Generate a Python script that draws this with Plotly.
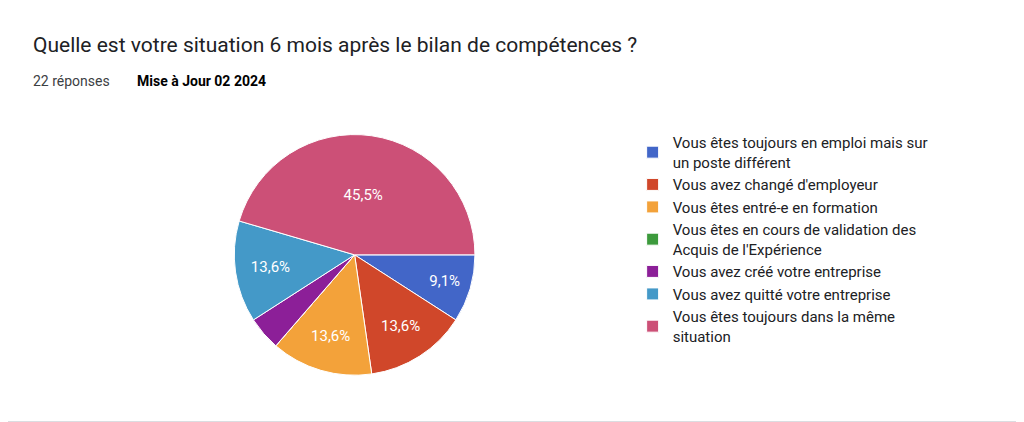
import plotly.graph_objects as go

labels = [
    "Vous êtes toujours en emploi mais sur<br>un poste différent",
    "Vous avez changé d'employeur",
    "Vous êtes entré-e en formation",
    "Vous êtes en cours de validation des<br>Acquis de l'Expérience",
    "Vous avez créé votre entreprise",
    "Vous avez quitté votre entreprise",
    "Vous êtes toujours dans la même<br>situation",
]
counts = [2, 3, 3, 0, 1, 3, 10]
slice_text = ["9,1%", "13,6%", "13,6%", "", "", "13,6%", "45,5%"]
colors = ["#4266c8", "#d0472a", "#f3a23a", "#3c9a3c", "#8c1f98", "#4499c8", "#cc5077"]

fig = go.Figure(go.Pie(
    labels=labels,
    values=counts,
    text=slice_text,
    texttemplate="%{text}",
    textposition="inside",
    insidetextorientation="horizontal",
    textfont=dict(color="white", size=15, family="Roboto, Arial, sans-serif"),
    marker=dict(colors=colors, line=dict(color="white", width=1)),
    sort=False,
    direction="clockwise",
    rotation=90,
    domain=dict(x=[0.221, 0.456], y=[0.128, 0.702]),
    hoverinfo="label+value+percent",
))

fig.update_layout(
    width=1024,
    height=422,
    margin=dict(l=0, r=0, t=0, b=0),
    paper_bgcolor="white",
    font=dict(family="Roboto, Arial, sans-serif", color="#202124"),
    legend=dict(
        x=0.61, y=0.72, xanchor="left", yanchor="top",
        font=dict(size=15, color="#202124"),
        tracegroupgap=0, itemwidth=30,
    ),
    annotations=[
        dict(text="Quelle est votre situation 6 mois après le bilan de compétences ?",
             x=23 / 1024, y=1 - 37 / 422, xref="paper", yref="paper",
             xanchor="left", yanchor="middle", showarrow=False,
             font=dict(size=21, color="#202124")),
        dict(text="22 réponses", x=23 / 1024, y=1 - 73 / 422, xref="paper", yref="paper",
             xanchor="left", yanchor="middle", showarrow=False,
             font=dict(size=14, color="#3c4043")),
        dict(text="<b>Mise à Jour 02 2024</b>", x=127 / 1024, y=1 - 73 / 422,
             xref="paper", yref="paper", xanchor="left", yanchor="middle",
             showarrow=False, font=dict(size=14, color="#000000")),
    ],
    shapes=[
        dict(type="rect", xref="paper", yref="paper", x0=-0.01, x1=0.985,
             y0=0.02, y1=1.05, line=dict(color="#dadce0", width=1)),
    ],
)

fig.write_html("out.html")
